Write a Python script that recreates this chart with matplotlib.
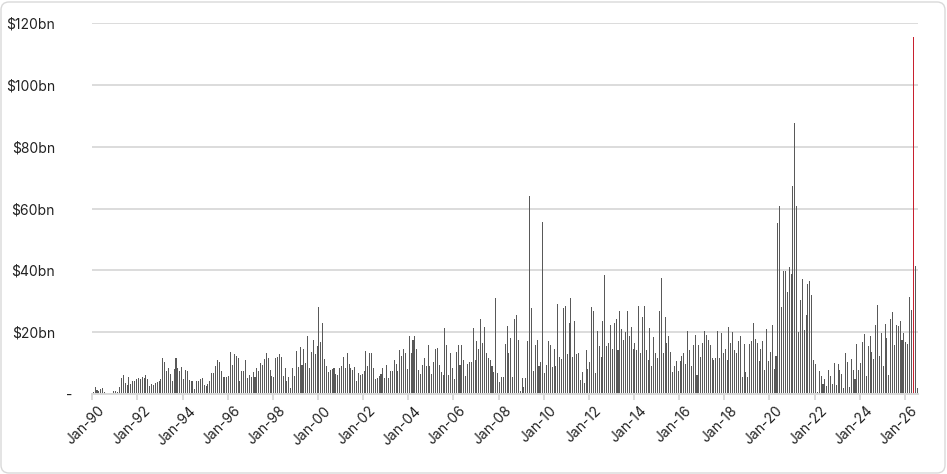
import matplotlib
matplotlib.use("Agg")
import matplotlib.pyplot as plt
import matplotlib.transforms as mtransforms
from matplotlib.patches import FancyBboxPatch
import numpy as np
import pandas as pd

# Monthly values, $bn (Jan-1990 onwards)
values_1990s = [
    0.5, 2.4, 1.3, 1.1, 1.6, 1.8, 0.8, 0, 0, 0, 0, 1.1,
    1.1, 0.8, 2.4, 5.2, 6.3, 3.5, 2.8, 5.4, 3.2, 4.3, 4.1, 4.9,
    5.2, 4.9, 5.6, 5.2, 6.0, 4.9, 2.7, 3.2, 3.0, 3.5, 3.8, 4.3,
    4.9, 11.5, 10.4, 7.6, 8.4, 6.5, 4.3, 8.1, 11.5, 8.4, 7.4, 8.6,
    4.9, 7.8, 7.4, 4.5, 4.1, 4.1, 1.6, 4.3, 4.1, 4.9, 5.2, 3.0,
    2.6, 3.2, 4.3, 6.9, 6.9, 8.9, 11.0, 10.2, 7.6, 5.4, 5.4, 5.6,
    5.9, 13.5, 9.5, 12.8, 12.4, 11.7, 4.3, 7.4, 7.6, 11.1, 5.1, 6.3,
    5.6, 7.0, 5.4, 8.3, 7.6, 9.9, 9.5, 11.4, 13.2, 11.7, 7.8, 5.9,
    5.6, 11.7, 11.9, 13.0, 12.1, 5.9, 8.3, 4.1, 5.4, 1.9, 8.3, 5.9,
    13.8, 8.6, 15.1, 9.5, 14.6, 9.9, 18.9, 8.4, 13.7, 17.5, 12.8, 15.4,
]
values_2000s = [
    28.3, 16.8, 23.1, 11.4, 8.9, 7.0, 7.8, 8.1, 8.4, 6.5, 6.2, 8.4,
    9.2, 12.1, 8.3, 13.2, 9.7, 8.4, 7.8, 8.6, 4.1, 6.7, 6.3, 6.5,
    7.6, 13.8, 9.2, 13.4, 13.4, 8.3, 4.8, 5.1, 5.9, 6.4, 8.3, 5.1,
    9.5, 5.3, 7.4, 7.4, 11.1, 9.8, 7.6, 14.3, 12.4, 14.7, 13.4, 8.2,
    18.6, 13.1, 17.6, 18.6, 14.7, 7.9, 6.6, 9.5, 11.8, 8.9, 15.7, 9.2,
    6.6, 10.3, 14.7, 15.0, 9.5, 7.2, 6.3, 21.2, 16.0, 6.3, 13.1, 8.5,
    5.0, 13.7, 16.0, 9.5, 15.7, 11.1, 5.9, 9.8, 10.5, 10.5, 21.5, 11.1,
    17.0, 14.7, 24.4, 16.6, 21.8, 13.4, 11.8, 11.1, 8.9, 7.2, 30.9, 6.9,
    4.0, 5.6, 5.6, 16.3, 21.9, 13.2, 18.1, 5.6, 24.1, 25.7, 17.4, 1.1,
    5.1, 2.4, 5.3, 17.1, 64.0, 27.7, 7.4, 15.7, 17.4, 9.2, 10.3, 55.7,
]
values_2010s = [
    6.9, 9.5, 17.1, 16.0, 8.6, 14.4, 9.2, 29.1, 11.9, 11.2, 27.7, 28.4,
    12.8, 22.9, 30.9, 12.1, 23.5, 12.8, 13.4, 4.6, 7.2, 3.4, 14.1, 8.2,
    10.2, 28.3, 27.0, 6.9, 20.5, 15.4, 12.1, 23.5, 38.4, 15.4, 16.6, 22.2,
    14.4, 23.1, 24.1, 14.1, 27.0, 20.9, 17.6, 19.9, 27.0, 18.9, 21.8, 14.7,
    16.6, 14.1, 28.6, 13.4, 24.8, 28.6, 14.1, 11.1, 21.2, 8.9, 18.3, 13.4,
    11.8, 27.0, 37.4, 13.4, 24.8, 16.6, 18.6, 13.7, 7.2, 9.2, 10.8, 7.6,
    10.8, 12.4, 13.1, 9.8, 20.5, 14.1, 9.2, 16.0, 19.2, 6.3, 15.7, 12.1,
    16.6, 20.5, 19.2, 17.6, 16.0, 11.5, 11.1, 11.8, 20.5, 11.8, 19.6, 13.4,
    14.7, 11.1, 21.8, 16.6, 19.9, 14.1, 13.4, 17.3, 18.9, 5.6, 16.3, 7.2,
    5.6, 16.3, 17.3, 23.1, 17.9, 16.6, 10.8, 14.4, 17.0, 7.9, 20.9, 10.8,
]
values_2020s = [
    13.7, 22.2, 8.2, 12.4, 55.2, 60.8, 28.3, 39.7, 39.7, 33.1, 41.2, 38.9,
    67.4, 87.8, 60.9, 20.0, 30.5, 37.3, 20.8, 25.7, 35.7, 36.7, 32.1, 11.1,
    9.8, 0.8, 7.6, 5.9, 3.3, 5.0, 2.7, 7.9, 5.9, 3.3, 10.1, 3.0,
    9.8, 7.9, 6.6, 2.0, 13.1, 10.5, 2.4, 11.4, 7.9, 5.0, 16.3, 7.9,
    10.1, 16.9, 19.5, 5.9, 15.6, 18.6, 13.7, 11.4, 22.4, 28.9, 12.4, 19.8,
    9.2, 22.8, 18.2, 6.3, 24.4, 26.6, 16.0, 22.4, 22.1, 23.7, 17.6, 19.8,
    16.9, 16.3, 31.5, 27.3, 115.6, 41.5, 2.0,
]
start_month = "1990-01"
highlight_month = "2026-05"
y_ticks = [0, 20, 40, 60, 80, 100, 120]
y_tick_labels = ["-", "$20bn", "$40bn", "$60bn", "$80bn", "$100bn", "$120bn"]

values = np.array(values_1990s + values_2000s + values_2010s + values_2020s)
months = pd.date_range(start_month, periods=len(values), freq="MS")
x = np.arange(len(values))

plt.rcParams["font.family"] = ["Inter", "DejaVu Sans"]
W, H = 947, 474
fig = plt.figure(figsize=(W / 100, H / 100), dpi=100)
left, right, top, bottom = 92.3, 918, 23, 394
ax = fig.add_axes([left / W, 1 - bottom / H, (right - left) / W, (bottom - top) / H])

colors = ["#C8202F" if m == pd.Timestamp(highlight_month) else "#595959" for m in months]
ax.bar(x, values, width=0.55, color=colors, linewidth=0, zorder=3, antialiased=False)

ax.set_xlim(-0.5, len(values) - 0.5)
ax.set_ylim(0, 120)

grid_c = "#D9D9D9"
ax.set_yticks(y_ticks)
ax.set_yticklabels(y_tick_labels)
ax.yaxis.grid(True, color=grid_c, linewidth=1.3, zorder=0)
ax.set_axisbelow(True)
for s in ["left", "right", "top"]:
    ax.spines[s].set_visible(False)
ax.spines["bottom"].set_color(grid_c)
ax.spines["bottom"].set_linewidth(1.4)
ax.spines["bottom"].set_zorder(4)

tick_idx = [i for i, m in enumerate(months) if m.month == 1 and m.year % 2 == 0]
ax.set_xticks([i - 0.5 for i in tick_idx])
ax.set_xticklabels([months[i].strftime("%b-%y") for i in tick_idx])
ax.tick_params(axis="x", length=4, width=1.3, color=grid_c, labelsize=10,
               labelcolor="#222222", pad=3)
ax.tick_params(axis="y", length=0, labelsize=10, labelcolor="#222222", pad=27)

for lab in ax.get_xticklabels():
    lab.set_rotation(45)
    lab.set_ha("right")
    lab.set_va("top")
    lab.set_rotation_mode("anchor")
    lab.set_transform(lab.get_transform() + mtransforms.ScaledTranslation(4 / 72, 0, fig.dpi_scale_trans))

zero_lab = ax.get_yticklabels()[0]
zero_lab.set_transform(zero_lab.get_transform() + mtransforms.ScaledTranslation(13 / 72, 0, fig.dpi_scale_trans))

border = FancyBboxPatch((1, 1), W - 3, H - 3, boxstyle="round,pad=0,rounding_size=8",
                        transform=mtransforms.IdentityTransform(), fill=False,
                        edgecolor=grid_c, linewidth=1.0)
fig.add_artist(border)

fig.savefig("out.png", dpi=100)
